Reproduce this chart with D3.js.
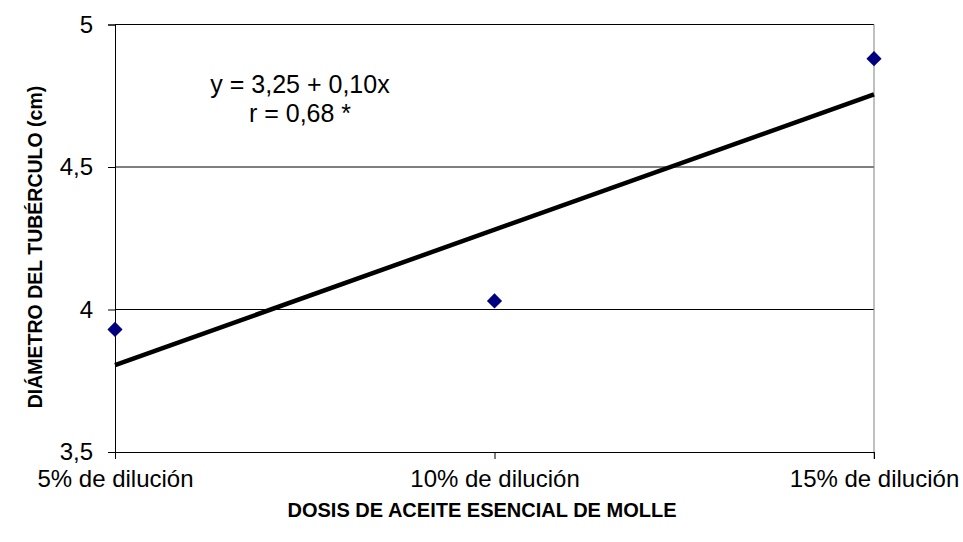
<!DOCTYPE html>
<html><head><meta charset="utf-8">
<script src="https://cdn.jsdelivr.net/npm/d3@7"></script>
<style>body{margin:0;background:#fff}svg{display:block}text{font-family:"Liberation Sans",Arial,sans-serif}</style>
</head><body><svg id="c" width="963" height="542"></svg>
<script>
const categories = ["5% de dilución","10% de dilución","15% de dilución"];
const values = [3.93, 4.03, 4.88];
const yTicks = [3.5, 4, 4.5, 5];
const yTickLabels = ["3,5","4","4,5","5"];
const annotation = ["y = 3,25 + 0,10x", "r = 0,68 *"];

const svg = d3.select("#c");
const L = 115, R = 874, T = 24.5, B = 452;
const x = d3.scalePoint().domain(categories).range([L, R]);
const y = d3.scaleLinear().domain([3.5, 5]).range([B, T]);
const FF = '"Liberation Sans",Arial,sans-serif';

// gridlines
svg.append("g").selectAll("line").data(yTicks.filter(d => d > 3.5 && d < 5)).join("line")
  .attr("x1", L).attr("x2", R).attr("y1", d => y(d)).attr("y2", d => y(d))
  .attr("stroke", "#000").attr("stroke-width", 1);
// top border
svg.append("line").attr("x1", L).attr("x2", R).attr("y1", y(5)).attr("y2", y(5)).attr("stroke", "#000");
// right border
svg.append("line").attr("x1", R).attr("x2", R).attr("y1", T).attr("y2", B + 7).attr("stroke", "#808080");

// y axis
const yAxis = d3.axisLeft(y).tickValues(yTicks).tickFormat((d, i) => yTickLabels[i]).tickSize(7).tickPadding(15);
const gy = svg.append("g").attr("transform", `translate(${L},0)`).call(yAxis);
gy.select(".domain").attr("stroke", "#000");
gy.selectAll("text").attr("font-size", 24).attr("fill", "#000").style("font-family", FF);

// x axis
const xAxis = d3.axisBottom(x).tickSize(7).tickPadding(11).tickSizeOuter(0);
const gx = svg.append("g").attr("transform", `translate(0,${B})`).call(xAxis);
gx.select(".domain").attr("stroke", "#000");
gx.selectAll("text").attr("font-size", 24).attr("fill", "#000").style("font-family", FF);

// regression line computed from the data
const xs = categories.map((d, i) => i + 1);
const mx = d3.mean(xs), my = d3.mean(values);
const slope = d3.sum(xs.map((xi, i) => (xi - mx) * (values[i] - my))) / d3.sum(xs.map(xi => (xi - mx) ** 2));
const icpt = my - slope * mx;
svg.append("line")
  .attr("x1", x(categories[0])).attr("y1", y(icpt + slope * xs[0]))
  .attr("x2", x(categories[2])).attr("y2", y(icpt + slope * xs[2]))
  .attr("stroke", "#000").attr("stroke-width", 4.5);

// points
svg.append("g").selectAll("path").data(values).join("path")
  .attr("d", d3.symbol().type(d3.symbolSquare).size(115))
  .attr("transform", (d, i) => `translate(${x(categories[i])},${y(d)}) rotate(45)`)
  .attr("fill", "#000080");

// annotation
svg.append("g").selectAll("text").data(annotation).join("text")
  .attr("x", 300).attr("y", (d, i) => 93 + i * 29)
  .attr("text-anchor", "middle").attr("font-size", 25).attr("fill", "#000").text(d => d);

// axis titles
svg.append("text").attr("x", 482).attr("y", 517).attr("text-anchor", "middle")
  .attr("font-size", 20).attr("font-weight", "bold").text("DOSIS DE ACEITE ESENCIAL DE MOLLE");
svg.append("text").attr("transform", "translate(42,247) rotate(-90)").attr("text-anchor", "middle")
  .attr("font-size", 19.5).attr("font-weight", "bold").text("DIÁMETRO DEL TUBÉRCULO (cm)");
</script></body></html>
